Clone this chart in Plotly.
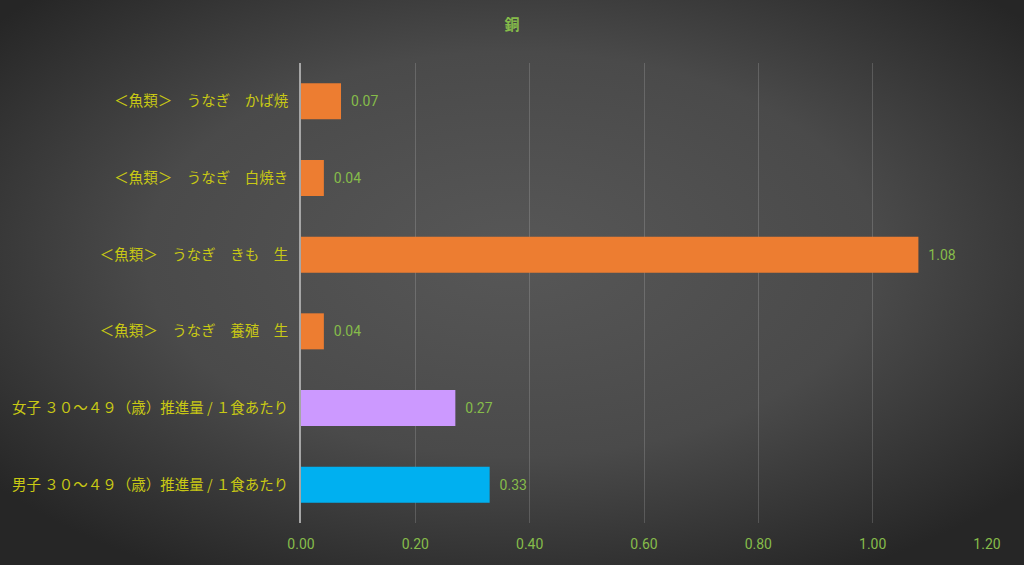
import base64
import plotly.graph_objects as go

# Data (top to bottom as shown in the reference)
categories = [
    "＜魚類＞　うなぎ　かば焼",
    "＜魚類＞　うなぎ　白焼き",
    "＜魚類＞　うなぎ　きも　生",
    "＜魚類＞　うなぎ　養殖　生",
    "女子 ３０～４９（歳）推進量 / １食あたり",
    "男子 ３０～４９（歳）推進量 / １食あたり",
]
values = [0.07, 0.04, 1.08, 0.04, 0.27, 0.33]
bar_colors = ["#ED7D31", "#ED7D31", "#ED7D31", "#ED7D31", "#CC99FF", "#00B0F0"]
x_ticks = [0.0, 0.2, 0.4, 0.6, 0.8, 1.0, 1.2]
title_text = "銅"

W, H = 1024, 565
ML, MR, MT, MB = 301, 37, 63, 42
pw, ph = W - ML - MR, H - MT - MB

svg = f'''<svg xmlns="http://www.w3.org/2000/svg" width="{W}" height="{H}" viewBox="0 0 {W} {H}" preserveAspectRatio="none">
<defs><radialGradient id="g" cx="50%" cy="45%" r="65%" gradientUnits="objectBoundingBox">
<stop offset="0%" stop-color="#575757"/><stop offset="55%" stop-color="#4a4a4a"/><stop offset="100%" stop-color="#262626"/>
</radialGradient></defs><rect width="{W}" height="{H}" fill="url(#g)"/></svg>'''
bg_uri = "data:image/svg+xml;base64," + base64.b64encode(svg.encode()).decode()

num_font = "Liberation Sans Narrow, Roboto, sans-serif"

fig = go.Figure(
    go.Bar(
        x=values,
        y=categories,
        orientation="h",
        marker=dict(color=bar_colors, line=dict(width=0)),
        text=["  " + f"{v:.2f}" for v in values],
        textposition="outside",
        textfont=dict(color="#86BC4A", size=14, family=num_font),
        cliponaxis=False,
        width=0.47,
    )
)

fig.update_layout(
    width=W,
    height=H,
    margin=dict(l=ML, r=MR, t=MT, b=MB, autoexpand=False),
    paper_bgcolor="#2c2c2c",
    plot_bgcolor="rgba(0,0,0,0)",
    showlegend=False,
    title=dict(
        text="<b>" + title_text + "</b>",
        x=0.5,
        xref="container",
        xanchor="center",
        y=1 - 25 / H,
        yanchor="middle",
        font=dict(color="#86BC4A", size=15, family="Noto Sans CJK JP"),
    ),
    images=[
        dict(
            source=bg_uri,
            xref="paper",
            yref="paper",
            x=-ML / pw,
            y=1 + MT / ph,
            sizex=W / pw,
            sizey=H / ph,
            sizing="stretch",
            xanchor="left",
            yanchor="top",
            layer="below",
        )
    ],
    xaxis=dict(
        range=[0, 1.2],
        tickvals=x_ticks,
        ticktext=[f"{t:.2f}" for t in x_ticks],
        showgrid=True,
        gridcolor="rgba(255,255,255,0.16)",
        gridwidth=1,
        zeroline=False,
        showline=False,
        ticks="",
        automargin=False,
        tickfont=dict(color="#86BC4A", size=14, family=num_font),
        ticklabelstandoff=11,
    ),
    yaxis=dict(
        categoryorder="array",
        categoryarray=categories[::-1],
        showline=True,
        linecolor="#a6a6a6",
        linewidth=1.5,
        showgrid=False,
        ticks="",
        automargin=False,
        ticklabelstandoff=8,
        tickfont=dict(color="#C8C814", size=14.5, family="Noto Sans CJK JP"),
    ),
)

fig.write_html("out.html")
